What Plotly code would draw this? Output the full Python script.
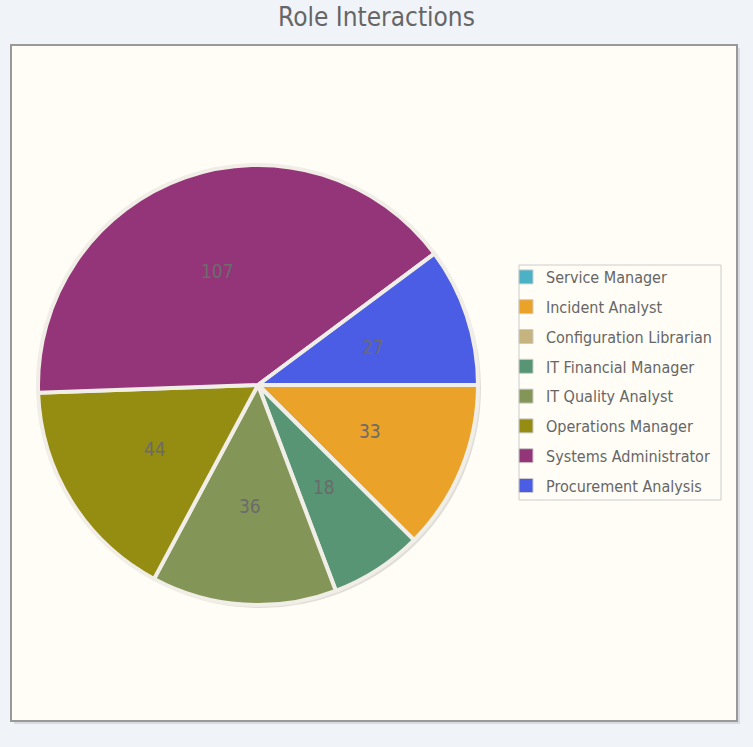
import math
import plotly.graph_objects as go

labels = ["Service Manager", "Incident Analyst", "Configuration Librarian",
          "IT Financial Manager", "IT Quality Analyst", "Operations Manager",
          "Systems Administrator", "Procurement Analysis"]
values = [0, 33, 0, 18, 36, 44, 107, 27]
colors = ["#4bb2c5", "#eaa228", "#c5b47f", "#579575", "#839557", "#958c12",
          "#953579", "#4b5de4"]

W, H = 753, 747
cx, cy, R = 258, 385, 220  # pixel geometry of pie
FONT = "DejaVu Sans Condensed, DejaVu Sans"

def px_x(x):
    return x / W

def px_y(y):
    return 1 - y / H

fig = go.Figure()

# shadow pie
sh = 3
fig.add_trace(go.Pie(
    labels=labels, values=values, sort=False, direction="clockwise", rotation=90,
    marker=dict(colors=["rgba(0,0,0,0.12)"] * len(values), line=dict(color="rgba(0,0,0,0)", width=0)),
    textinfo="none", hoverinfo="skip", showlegend=False,
    domain=dict(x=[px_x(cx - R + sh), px_x(cx + R + sh)], y=[px_y(cy + R + sh), px_y(cy - R + sh)]),
))

fig.add_trace(go.Pie(
    labels=labels, values=values, sort=False, direction="clockwise", rotation=90,
    marker=dict(colors=colors, line=dict(color="#f1eee7", width=4)),
    textinfo="none", showlegend=False,
    domain=dict(x=[px_x(cx - R), px_x(cx + R)], y=[px_y(cy + R), px_y(cy - R)]),
))

# legend entries
for i, (lab, col) in enumerate(zip(labels, colors)):
    fig.add_trace(go.Scatter(
        x=[None], y=[None], mode="markers", name=lab, legendgroup=f"g{i}",
        marker=dict(symbol="square", size=14, color=col, line=dict(color="#cccccc", width=1)),
    ))

# slice value labels
total = sum(values)
cum = 0
annotations = []
for v in values:
    if v > 0:
        mid = (cum + v / 2) / total * 2 * math.pi
        x = cx + 0.55 * R * math.cos(mid)
        y = cy + 0.55 * R * math.sin(mid)
        annotations.append(dict(
            x=px_x(x), y=px_y(y), xref="paper", yref="paper", text=str(v),
            xanchor="center", yanchor="middle",
            showarrow=False, font=dict(size=19, color="#6b6b6b", family=FONT)))
    cum += v

shapes = [
    dict(type="rect", xref="paper", yref="paper", layer="below",
         x0=px_x(14), x1=px_x(740), y0=px_y(724), y1=px_y(48),
         fillcolor="#d8dce0", line=dict(width=0)),
    dict(type="rect", xref="paper", yref="paper", layer="below",
         x0=px_x(11), x1=px_x(737), y0=px_y(721), y1=px_y(45),
         fillcolor="#fffdf6", line=dict(color="#999999", width=2)),
    # legend box
    dict(type="rect", xref="paper", yref="paper", layer="below",
         x0=px_x(519), x1=px_x(721), y0=px_y(500), y1=px_y(265),
         fillcolor="#fffdf6", line=dict(color="#cccccc", width=1)),
]

fig.update_layout(
    width=W, height=H,
    margin=dict(l=0, r=0, t=0, b=0),
    paper_bgcolor="#f0f4f8", plot_bgcolor="rgba(0,0,0,0)",
    title=dict(text="Role Interactions", x=0.5, xanchor="center", y=px_y(17), yanchor="middle",
               font=dict(size=26, color="#666666", family=FONT)),
    xaxis=dict(visible=False), yaxis=dict(visible=False),
    showlegend=True,
    legend=dict(x=px_x(506), y=px_y(260), xanchor="left", yanchor="top",
                bgcolor="rgba(0,0,0,0)", borderwidth=0,
                tracegroupgap=6, itemclick=False,
                font=dict(size=16, color="#666666", family=FONT)),
    annotations=annotations, shapes=shapes,
)

fig.write_html("out.html", config={"displayModeBar": False},
               post_script="document.body.style.margin='0';document.body.style.background='#f0f4f8';")
